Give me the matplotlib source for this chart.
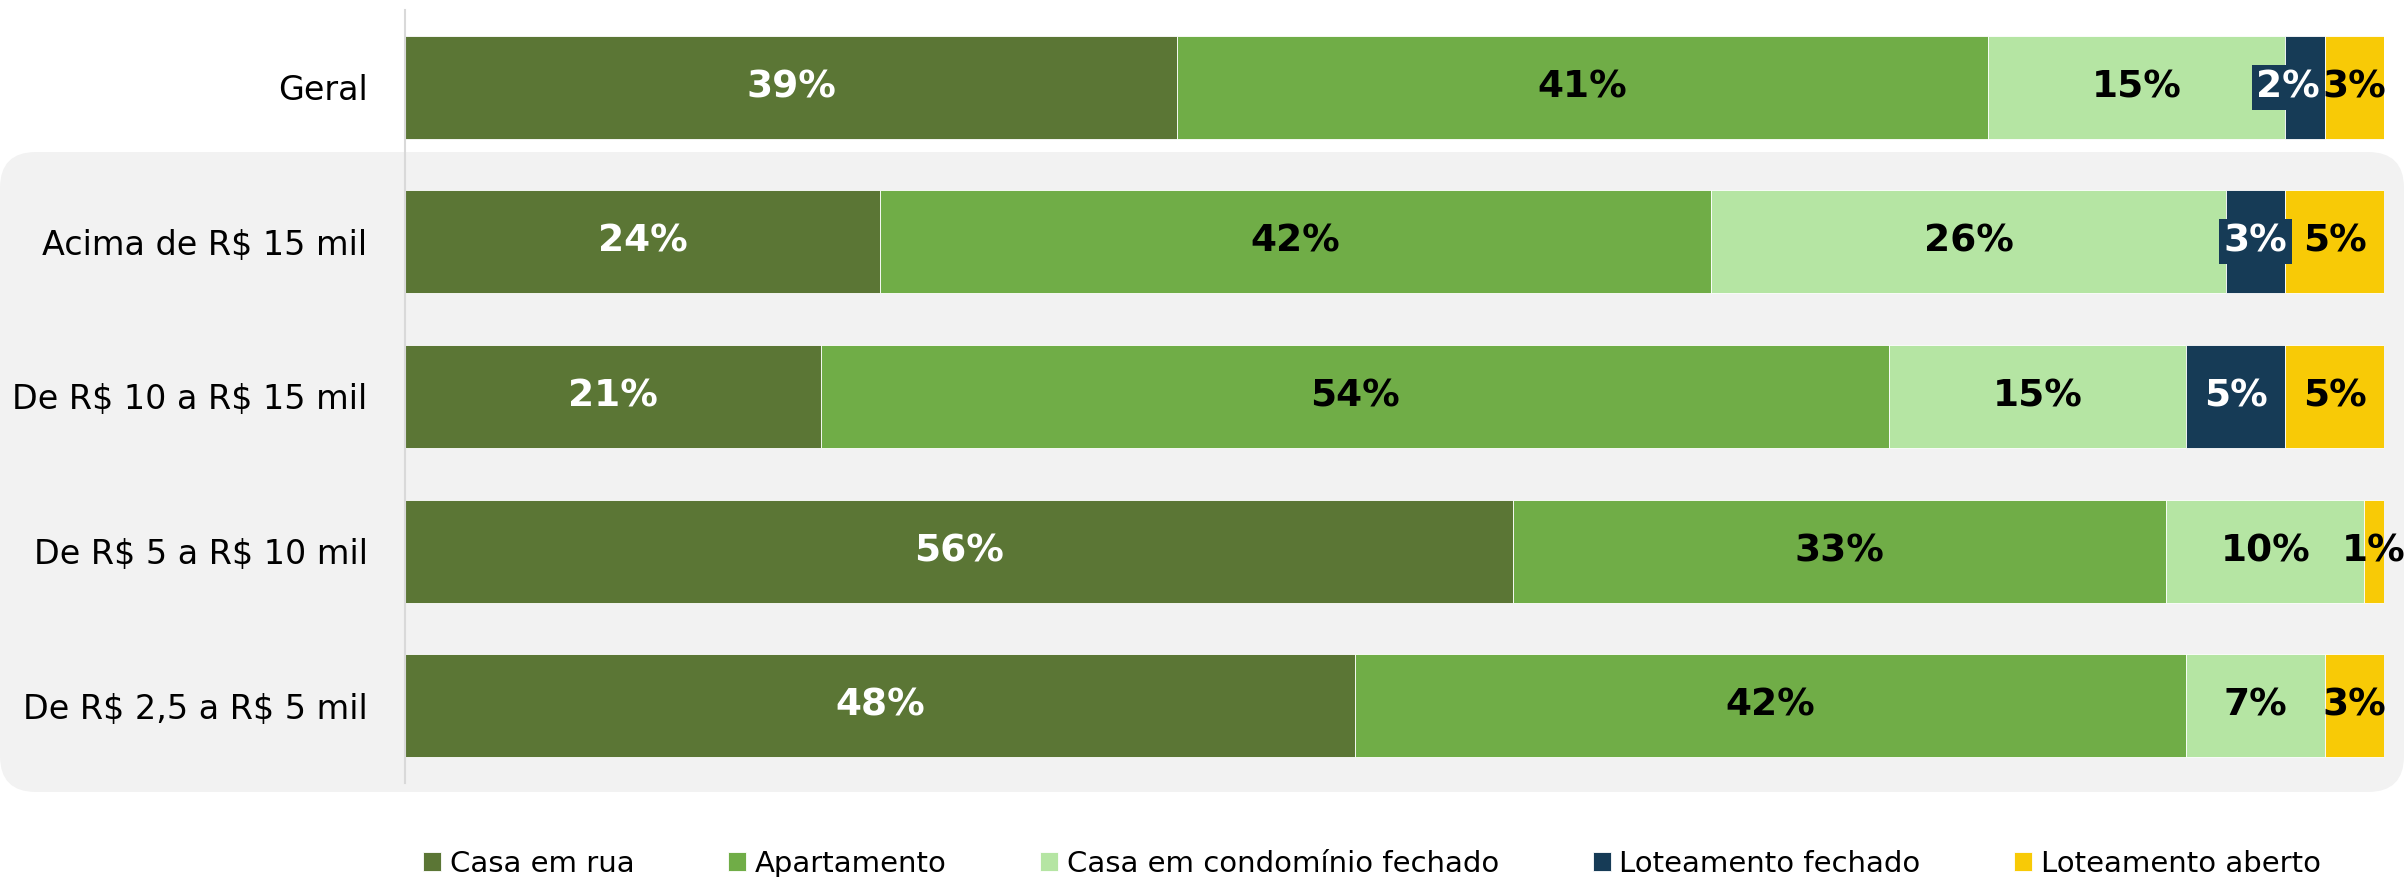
import numpy as np
import matplotlib.pyplot as plt
from matplotlib.patches import FancyBboxPatch

plt.rcParams['font.family'] = 'DejaVu Sans'
plt.rcParams['text.parse_math'] = False

cats = ['Geral', 'Acima de R$ 15 mil', 'De R$ 10 a R$ 15 mil',
        'De R$ 5 a R$ 10 mil', 'De R$ 2,5 a R$ 5 mil']
names = ['Casa em rua', 'Apartamento', 'Casa em condomínio fechado',
         'Loteamento fechado', 'Loteamento aberto']

casa_rua = [39, 24, 21, 56, 48]
apartamento = [41, 42, 54, 33, 42]
casa_cond = [15, 26, 15, 10, 7]
lot_fechado = [2, 3, 5, 0, 0]
lot_aberto = [3, 5, 5, 1, 3]

series = [casa_rua, apartamento, casa_cond, lot_fechado, lot_aberto]
colors = ['#5B7635', '#70AD47', '#B5E5A3', '#163B56', '#F8CA06']
text_colors = ['white', 'black', 'black', 'white', 'black']

fig = plt.figure(figsize=(24.05, 8.77), dpi=100)

# grey rounded panel behind the income groups
bg = fig.add_axes([0, 0, 1, 1], zorder=0)
bg.set_xlim(0, 2405)
bg.set_ylim(877, 0)
bg.axis('off')
bg.add_patch(FancyBboxPatch((0, 152), 2404, 640,
                            boxstyle='round,pad=0,rounding_size=36',
                            fc='#F2F2F2', ec='none'))

ax = fig.add_axes([0.1684, 0.1072, 0.8229, 0.8814], zorder=1)
ax.patch.set_alpha(0)

y = np.arange(len(cats))
left = np.zeros(len(cats))
for vals, name, color, tcolor in zip(series, names, colors, text_colors):
    vals = np.array(vals)
    bars = ax.barh(y, vals, left=left, height=0.666, color=color,
                   edgecolor='white', linewidth=0.6, label=name)
    labels = [f'{v}%' if v > 0 else '' for v in vals]
    txts = ax.bar_label(bars, labels=labels, label_type='center',
                        color=tcolor, fontsize=27, fontweight='bold')
    if color == '#163B56':
        for t, v in zip(txts, vals):
            t.set_bbox(dict(boxstyle='square,pad=0.12', fc=color, ec='none'))
            if v <= 2:
                # nudge the tiny label left so it clears its neighbour
                t.xyann = (-12, 0)
    left += vals

ax.set_xlim(0, 100)
ax.set_ylim(4.5, -0.5)
ax.set_yticks(y, cats, fontsize=24)
ax.tick_params(axis='y', length=0, pad=27)
ax.set_xticks([])
for s in ['top', 'right', 'bottom']:
    ax.spines[s].set_visible(False)
ax.spines['left'].set_color('#D9D9D9')
ax.spines['left'].set_linewidth(1.5)

fig.legend(loc='center', bbox_to_anchor=(0.5705, 0.015), ncol=5,
           frameon=False, fontsize=21, handlelength=0.62, handleheight=0.62,
           handletextpad=0.3, columnspacing=3.2)

fig.savefig('out.png', dpi=100)
